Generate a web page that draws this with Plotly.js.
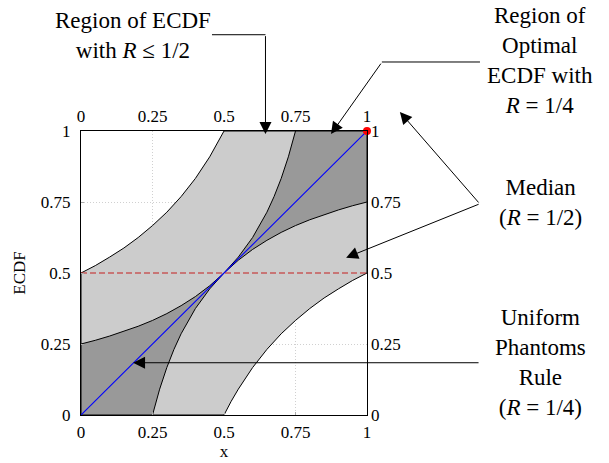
<!DOCTYPE html>
<html>
<head>
<meta charset="utf-8">
<script src="https://cdn.plot.ly/plotly-3.0.1.min.js"></script>
<style>html,body{margin:0;padding:0;background:#fff;}#chart{width:609px;height:463px;}</style>
</head>
<body>
<div id="chart"></div>
<script>
// Tick values / labels
const tickVals = [0, 0.25, 0.5, 0.75, 1];
const tickText = ['0', '0.25', '0.5', '0.75', '1'];

// Region of ECDF with R <= 1/2 : upper boundary (from (0,0.5) to (0.5,1))
const halfUpperX = [0, 0.05, 0.1, 0.15, 0.2, 0.25, 0.3, 0.35, 0.4, 0.45, 0.475, 0.5];
const halfUpperY = [0.5, 0.526, 0.556, 0.588, 0.625, 0.667, 0.714, 0.769, 0.833, 0.909, 0.952, 1.0];
// lower boundary (from (0.5,0) to (1,0.5))
const halfLowerX = [0.5, 0.525, 0.55, 0.6, 0.65, 0.7, 0.75, 0.8, 0.85, 0.9, 0.95, 1];
const halfLowerY = [0, 0.048, 0.091, 0.167, 0.231, 0.286, 0.333, 0.375, 0.412, 0.444, 0.474, 0.5];

// Optimal region R = 1/4 : upper boundary (from (0,0.25) through (0.5,0.5) to (0.75,1))
const quarterUpperX = [0, 0.05, 0.1, 0.15, 0.2, 0.25, 0.3, 0.35, 0.4, 0.45, 0.5, 0.55, 0.6, 0.65, 0.675, 0.7, 0.725, 0.75];
const quarterUpperY = [0.25, 0.263, 0.278, 0.294, 0.3125, 0.333, 0.357, 0.385, 0.417, 0.455, 0.5, 0.556, 0.625, 0.714, 0.769, 0.833, 0.909, 1.0];
// lower boundary (from (0.25,0) through (0.5,0.5) to (1,0.75))
const quarterLowerX = [0.25, 0.275, 0.3, 0.325, 0.35, 0.4, 0.45, 0.5, 0.55, 0.6, 0.65, 0.7, 0.75, 0.8, 0.85, 0.9, 0.95, 1];
const quarterLowerY = [0, 0.091, 0.167, 0.231, 0.286, 0.375, 0.444, 0.5, 0.545, 0.583, 0.615, 0.643, 0.667, 0.6875, 0.706, 0.722, 0.737, 0.75];

// Uniform phantoms rule (diagonal), median line, optimal point
const diagX = [0, 1];
const diagY = [0, 1];
const medianX = [0, 1];
const medianY = [0.5, 0.5];
const pointX = [1];
const pointY = [1];

// polygons built from the boundaries
const lightX = [0].concat(halfLowerX, [1], halfUpperX.slice().reverse(), [0]);
const lightY = [0].concat(halfLowerY, [1], halfUpperY.slice().reverse(), [0]);
const darkX = [0].concat(quarterLowerX, [1], quarterUpperX.slice().reverse(), [0]);
const darkY = [0].concat(quarterLowerY, [1], quarterUpperY.slice().reverse(), [0]);

const serif = 'Liberation Serif, Times New Roman, serif';

const traces = [
  {x: lightX, y: lightY, type: 'scatter', mode: 'lines', fill: 'toself',
   fillcolor: '#cccccc', line: {color: '#000', width: 1}, hoverinfo: 'skip', showlegend: false},
  {x: darkX, y: darkY, type: 'scatter', mode: 'lines', fill: 'toself',
   fillcolor: '#999999', line: {color: '#000', width: 1}, hoverinfo: 'skip', showlegend: false},
  {x: medianX, y: medianY, type: 'scatter', mode: 'lines',
   line: {color: '#c41e1e', width: 1.1, dash: '6px,3px'}, showlegend: false},
  {x: diagX, y: diagY, type: 'scatter', mode: 'lines',
   line: {color: '#0000ff', width: 1.1}, showlegend: false},
  {x: pointX, y: pointY, type: 'scatter', mode: 'markers', cliponaxis: false,
   marker: {color: '#ff0000', size: 8}, showlegend: false},
  {x: [0], y: [0], xaxis: 'x2', yaxis: 'y2', type: 'scatter', mode: 'markers',
   marker: {opacity: 0}, hoverinfo: 'skip', showlegend: false}
];

const axisCommon = {
  range: [0, 1], tickvals: tickVals, ticktext: tickText,
  ticks: 'inside', ticklen: 3, tickcolor: '#aaaaaa',
  showline: true, linecolor: '#000', linewidth: 1, mirror: true,
  zeroline: false, tickfont: {family: serif, size: 17, color: '#000'},
  fixedrange: true
};

const layout = {
  width: 609, height: 463,
  margin: {l: 81, r: 242, t: 131, b: 48},
  paper_bgcolor: '#fff', plot_bgcolor: '#fff',
  showlegend: false,
  font: {family: serif, color: '#000'},
  xaxis: Object.assign({}, axisCommon, {
    showgrid: true, gridcolor: '#d0d0d0', griddash: '1px,2px', gridwidth: 1, layer: 'above traces',
    ticklabelstandoff: 2,
    title: {text: 'x', font: {family: serif, size: 17}, standoff: 2}
  }),
  yaxis: Object.assign({}, axisCommon, {
    showgrid: true, gridcolor: '#d0d0d0', griddash: '1px,2px', gridwidth: 1, layer: 'above traces',
    ticklabelstandoff: 6,
    title: {text: 'ECDF', font: {family: serif, size: 17}, standoff: 10}
  }),
  xaxis2: Object.assign({}, axisCommon, {overlaying: 'x', side: 'top', showgrid: false, showline: false, ticks: '', ticklabelstandoff: 5}),
  yaxis2: Object.assign({}, axisCommon, {overlaying: 'y', side: 'right', showgrid: false, showline: false, ticks: '', ticklabelstandoff: 3}),
  shapes: [
    {type: 'line', xref: 'paper', yref: 'paper', x0: 0.458, y0: 1.339, x1: 0.645, y1: 1.339, line: {color: '#000', width: 1}},
    {type: 'line', xref: 'paper', yref: 'paper', x0: 1.052, y0: 1.243, x1: 1.395, y1: 1.243, line: {color: '#000', width: 1}}
  ],
  annotations: [
    {xref: 'paper', yref: 'paper', x: 0.182, y: 1.337, text: 'Region of ECDF<br>with <i>R</i> ≤ 1/2', showarrow: false,
     font: {family: serif, size: 23}, xanchor: 'center', yanchor: 'middle'},
    {xref: 'paper', yref: 'paper', x: 1.605, y: 1.248, text: 'Region of<br>Optimal<br>ECDF with<br><i>R</i> = 1/4', showarrow: false,
     font: {family: serif, size: 23}, xanchor: 'center', yanchor: 'middle'},
    {xref: 'paper', yref: 'paper', x: 1.605, y: 0.75, text: 'Median<br>(<i>R</i> = 1/2)', showarrow: false,
     font: {family: serif, size: 23}, xanchor: 'center', yanchor: 'middle'},
    {xref: 'paper', yref: 'paper', x: 1.605, y: 0.186, text: 'Uniform<br>Phantoms<br>Rule<br>(<i>R</i> = 1/4)', showarrow: false,
     font: {family: serif, size: 23}, xanchor: 'center', yanchor: 'middle'},
    // arrows
    {xref: 'paper', yref: 'paper', x: 0.645, y: 0.989, text: '', showarrow: true, ax: 0, ay: -99.5,
     arrowhead: 2, arrowsize: 2.4, arrowwidth: 1, arrowcolor: '#000', standoff: 0},
    {xref: 'paper', yref: 'paper', x: 0.874, y: 0.989, text: '', showarrow: true, ax: 51, ay: -72,
     arrowhead: 2, arrowsize: 2.4, arrowwidth: 1, arrowcolor: '#000', standoff: 0},
    {xref: 'paper', yref: 'paper', x: 1.115, y: 1.067, text: '', showarrow: true, ax: 80, ay: 92,
     arrowhead: 2, arrowsize: 2.4, arrowwidth: 1, arrowcolor: '#000', standoff: 0},
    {xref: 'paper', yref: 'paper', x: 0.927, y: 0.554, text: '', showarrow: true, ax: 134, ay: -54,
     arrowhead: 2, arrowsize: 2.4, arrowwidth: 1, arrowcolor: '#000', standoff: 0},
    {xref: 'paper', yref: 'paper', x: 0.182, y: 0.184, text: '', showarrow: true, ax: 347, ay: 0,
     arrowhead: 2, arrowsize: 2.4, arrowwidth: 1, arrowcolor: '#000', standoff: 0}
  ]
};

Plotly.newPlot('chart', traces, layout, {displayModeBar: false, staticPlot: true});
</script>
</body>
</html>
